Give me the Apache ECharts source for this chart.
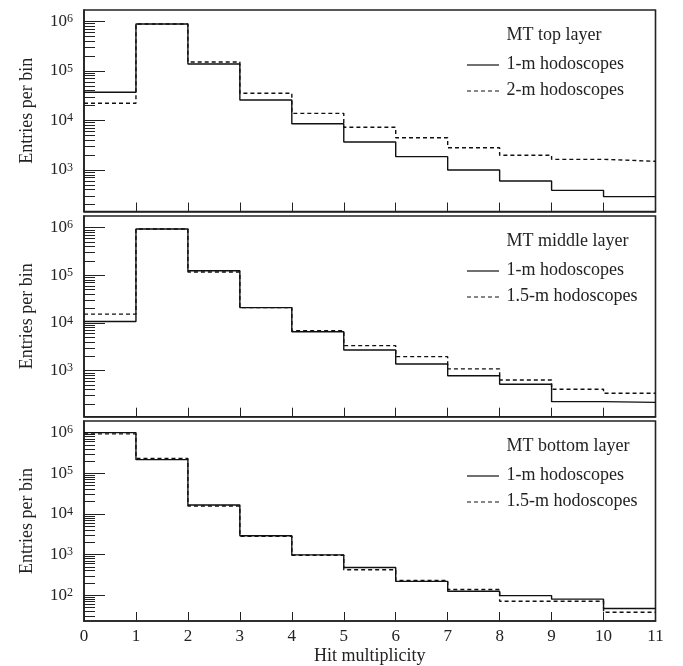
<!DOCTYPE html>
<html><head><meta charset="utf-8">
<script src="https://cdn.jsdelivr.net/npm/echarts@6/dist/echarts.min.js"></script>
<style>html,body{margin:0;padding:0;background:#fff}#c{width:683px;height:666px}</style>
</head><body><div id="c"></div>
<script>
// ---- data ----
const binEdges = [0, 1, 2, 3, 4, 5, 6, 7, 8, 9, 10, 11];
const xTickLabels = ['0', '1', '2', '3', '4', '5', '6', '7', '8', '9', '10', '11'];
const panelTitles = ['MT top layer', 'MT middle layer', 'MT bottom layer'];
const seriesNames = [
  ['1-m hodoscopes', '2-m hodoscopes'],
  ['1-m hodoscopes', '1.5-m hodoscopes'],
  ['1-m hodoscopes', '1.5-m hodoscopes']
];
const topLayer1m = [37000, 883000, 138000, 25800, 8600, 3670, 1860, 1000, 600, 389, 290];
const topLayer2m = [22200, 883000, 151000, 35300, 13900, 7270, 4490, 2820, 1980, 1640, 1500];
const middleLayer1m = [10800, 940000, 125000, 21000, 6580, 2720, 1380, 785, 519, 224, 217];
const middleLayer15m = [15400, 940000, 118000, 21000, 6900, 3350, 1970, 1090, 638, 407, 336];
const bottomLayer1m = [1000000, 216000, 16600, 2900, 984, 482, 219, 125, 98, 80, 47];
const bottomLayer15m = [930000, 232000, 15700, 2810, 960, 424, 232, 138, 71, 71, 38];
const yAxisTitle = 'Entries per bin';
const xAxisTitle = 'Hit multiplicity';

const panelSeries = [
  [topLayer1m, topLayer2m],
  [middleLayer1m, middleLayer15m],
  [bottomLayer1m, bottomLayer15m]
];

// ---- layout ----
const FONT = 'Liberation Serif';
const INK = '#222';
const gridTops = [10, 216, 421];
const gridHeights = [201.5, 200.7, 201.7];
const yLogRanges = [[2.163, 6.228], [2.035, 6.245], [1.366, 6.285]];

const majorVals = [1e1, 1e2, 1e3, 1e4, 1e5, 1e6];
const minorVals = [];
for (let d = 1; d <= 6; d++) for (let k = 2; k <= 9; k++) minorVals.push(k * Math.pow(10, d));

function stepData(vals) {
  const pts = vals.map((v, i) => [binEdges[i], v]);
  pts.push([binEdges[vals.length], vals[vals.length - 1]]);
  return pts;
}

const grids = [], xAxes = [], yAxes = [], series = [], graphics = [];
for (let g = 0; g < 3; g++) {
  const mn = Math.pow(10, yLogRanges[g][0]), mx = Math.pow(10, yLogRanges[g][1]);
  const majors = majorVals.filter(v => v >= mn && v <= mx);
  const minors = minorVals.filter(v => v >= mn && v <= mx);
  grids.push({
    left: 84, right: 27.5, top: gridTops[g], height: gridHeights[g],
    show: true, borderColor: INK, borderWidth: 1.6, backgroundColor: 'transparent'
  });
  xAxes.push({
    type: 'value', gridIndex: g, min: 0, max: 11, interval: 1,
    axisLine: { show: true, lineStyle: { color: INK, width: 1.6 } },
    axisTick: { show: true, inside: true, length: 9, lineStyle: { color: INK, width: 1 } },
    axisLabel: {
      show: g === 2, margin: 7, fontFamily: FONT, fontSize: 17, color: INK,
      formatter: v => xTickLabels[binEdges.indexOf(v)]
    },
    splitLine: { show: false },
    name: g === 2 ? xAxisTitle : '', nameLocation: 'middle', nameGap: 26,
    nameTextStyle: { fontFamily: FONT, fontSize: 18, color: INK }
  });
  yAxes.push({
    type: 'log', gridIndex: g, min: mn, max: mx, position: 'left',
    axisLine: { show: true, lineStyle: { color: INK, width: 1.6 } },
    axisTick: { show: true, inside: true, length: 21, customValues: majors, lineStyle: { color: INK, width: 1 } },
    axisLabel: {
      customValues: majors, margin: 11, color: INK,
      formatter: v => '{b|10}{s|' + Math.round(Math.log10(v)) + '}',
      rich: {
        b: { fontFamily: FONT, fontSize: 17, color: INK, lineHeight: 17 },
        s: { fontFamily: FONT, fontSize: 12, color: INK, lineHeight: 12, verticalAlign: 'top' }
      }
    },
    splitLine: { show: false },
    name: yAxisTitle, nameLocation: 'middle', nameGap: 48,
    nameTextStyle: { fontFamily: FONT, fontSize: 18, color: INK }
  });
  yAxes.push({
    type: 'log', gridIndex: g, min: mn, max: mx, position: 'left',
    axisLine: { show: false },
    axisTick: { show: true, inside: true, length: 11, customValues: minors, lineStyle: { color: INK, width: 1 } },
    axisLabel: { show: false },
    splitLine: { show: false }
  });
  panelSeries[g].forEach((vals, k) => {
    series.push({
      type: 'line', name: seriesNames[g][k], xAxisIndex: g, yAxisIndex: 2 * g,
      step: 'end', symbol: 'none', data: stepData(vals),
      lineStyle: { color: '#111', width: 1.4, type: k === 0 ? 'solid' : [4, 3] },
      z: k === 0 ? 3 : 4
    });
  });
  const t = gridTops[g];
  graphics.push({ type: 'text', left: 506.5, top: t + 26.5 - 10,
    style: { text: panelTitles[g], font: '18px "Liberation Serif"', fill: INK } });
  [55, 81].forEach((dy, k) => {
    graphics.push({ type: 'line', shape: { x1: 467, y1: t + dy, x2: 499, y2: t + dy },
      style: { stroke: '#111', lineWidth: 1.2, lineDash: k === 0 ? null : [4, 3] } });
    graphics.push({ type: 'text', left: 506.5, top: t + dy - 10,
      style: { text: seriesNames[g][k], font: '18px "Liberation Serif"', fill: INK } });
  });
}

const chart = echarts.init(document.getElementById('c'), null, { renderer: 'canvas' });
chart.setOption({
  animation: false,
  backgroundColor: '#fff',
  grid: grids, xAxis: xAxes, yAxis: yAxes, series: series, graphic: graphics
});
</script></body></html>
